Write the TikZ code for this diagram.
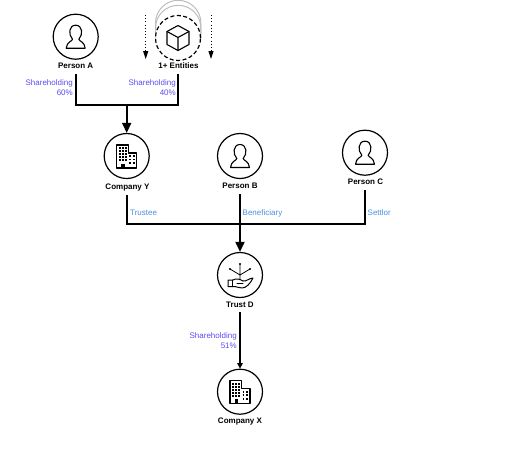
\documentclass[tikz,border=0pt]{standalone}
\usepackage{fontspec}
\setmainfont{Liberation Sans}
\usetikzlibrary{arrows.meta,calc}
\definecolor{sharecol}{HTML}{5B4BF0}
\definecolor{rolecol}{HTML}{4A90D9}
\definecolor{ghost}{HTML}{BDBDBD}
\tikzset{
  x=1pt,y=-1pt,
  entity/.style={circle,draw=black,line width=1.2pt,minimum size=45pt,inner sep=0pt,fill=white},
  name label/.style={font=\fontsize{8}{9}\selectfont\bfseries,text=black,inner sep=0pt,anchor=center,text height=6pt,text depth=0pt},
  share label/.style={font=\fontsize{8}{10}\selectfont,text=sharecol,align=right,anchor=north east,inner sep=0pt},
  role label/.style={font=\fontsize{8}{9}\selectfont,text=rolecol,anchor=west,inner sep=0pt},
  heavy/.style={line width=1.9pt,draw=black},
  heavy arrow/.style={heavy,-{Triangle[length=10pt,width=9pt]}},
  thin arrow/.style={line width=1.2pt,draw=black,-{Triangle[length=5.5pt,width=5.5pt]}},
  dotted arrow/.style={line width=1pt,dash pattern=on 1pt off 2.2pt,-{Triangle[length=8pt,width=5pt]}},
  icon/.style={line width=1.1pt,draw=black,line join=round,line cap=round},
  person/.pic={
    \draw[icon] (-3.2,2.5) .. controls (-7.5,-2) and (-7,-11.5) .. (0,-11.5) .. controls (7,-11.5) and (7.5,-2) .. (3.2,2.5)
      .. controls (3.2,4.5) and (9,5) .. (9.5,11.5) -- (-9.5,11.5) .. controls (-9,5) and (-3.2,4.5) .. (-3.2,2.5) -- cycle;
  },
  building/.pic={
    \draw[icon,fill=white] (-10,-11) -- (1.5,-11) -- (1.5,-3) -- (10,-3) -- (10,12) -- (-10,12) -- cycle;
    \foreach \xx in {-7,-4,-1}{\foreach \yy in {-8,-5,-2,1,4}{\fill (\xx-0.8,\yy-0.8) rectangle ++(1.6,1.6);}}
    \foreach \xx in {3.5,7}{\foreach \yy in {0,3.5,7}{\fill (\xx-0.8,\yy-0.8) rectangle ++(1.6,1.6);}}
    \fill (-5.5,7.5) rectangle (-2,12);
  },
  cube/.pic={
    \draw[icon] (0,-12.5) -- (11,-6.5) -- (11,6.5) -- (0,12.5) -- (-11,6.5) -- (-11,-6.5) -- cycle;
    \draw[icon] (-11,-6.5) -- (0,-0.5) -- (11,-6.5) (0,-0.5) -- (0,12.5);
  },
  trustmark/.pic={
    \draw[icon,line width=0.8pt] (0,4) -- (0,-11) (0,0) -- (-10,-6) (0,0) -- (10,-6);
    \fill (0,-11) circle (1.2) (-10,-6) circle (1.2) (10,-6) circle (1.2);
    \draw[icon,line width=1pt] (-12,5) -- (-7,5) .. controls (-4,3) and (0,4) .. (3,6) .. controls (6,7) and (9,3) .. (13,3)
      .. controls (10,9) and (6,13) .. (2,13) .. controls (-1,13) and (-3,11.5) .. (-7,11.5) -- (-12,11.5) -- cycle;
    \draw[icon,line width=1pt] (-7.5,5) -- (-7.5,11.5) (-3,8.5) -- (3,8.5);
  }
}
\begin{document}
\begin{tikzpicture}
\useasboundingbox (0,0) rectangle (512,448);
% ghost stack behind the entities node
\draw[ghost,line width=1pt] (155.5,38) -- (155.5,28) arc[start angle=180,end angle=360,radius=22.7] -- (200.9,38);
\draw[ghost,line width=1pt] (155.5,38) -- (155.5,23) arc[start angle=180,end angle=360,radius=22.7] -- (200.9,38);
% entities
\node[entity] (pa) at (75.7,36.7) {};
\node[entity,dash pattern=on 4pt off 2.5pt] (en) at (178,38) {};
\node[entity] (cy) at (126.7,156) {};
\node[entity] (pb) at (240,156) {};
\node[entity] (pc) at (365,152.7) {};
\node[entity] (td) at (240,275) {};
\node[entity] (cx) at (240,391.7) {};
% icons
\pic at (pa) {person};
\pic at (pb) {person};
\pic at (pc) {person};
\pic at (en) {cube};
\pic at (cy) {building};
\pic at (cx) {building};
\pic at (td) {trustmark};
% names
\node[name label] (pal) at (75.7,65.7) {Person A};
\node[name label] (enl) at (178.5,65.7) {1+ Entities};
\node[name label] (cyl) at (127.5,186) {Company Y};
\node[name label] (pbl) at (240,185) {Person B};
\node[name label] (pcl) at (365.5,181) {Person C};
\node[name label] (tdl) at (240,304) {Trust D};
\node[name label] (cxl) at (240,420.7) {Company X};
% connector joints
\coordinate (ja) at (pa |- 0,105);
\coordinate (je) at (en |- 0,105);
\coordinate (jy) at (cy |- 0,105);
\coordinate (ty) at (cy |- 0,224);
\coordinate (tc) at (pc |- 0,224);
\coordinate (free1) at (145.7,15);
\coordinate (free2) at (145.7,59);
\coordinate (free3) at (211,15);
\coordinate (free4) at (211,59);
% connectors
\draw[heavy,line join=miter] (pa |- 0,74) -- (ja) -- (je) -- (en |- 0,74);
\draw[heavy arrow] (jy) -- (cy.north);
\draw[heavy,line join=miter] (cy |- 0,195) -- (ty) -- (tc) -- (pc |- 0,190);
\draw[heavy arrow] (pb |- 0,194) -- (td.north);
\draw[thin arrow] (td |- 0,312) -- (cx.north);
\draw[dotted arrow] (free1) -- (free2);
\draw[dotted arrow] (free3) -- (free4);
% labels
\node[share label] (s60) at (73,79) {Shareholding\\60\%};
\node[share label] (s40) at (176,79) {Shareholding\\40\%};
\node[share label] (s51) at (237,332) {Shareholding\\51\%};
\node[role label] (r1) at (130,213) {Trustee};
\node[role label] (r2) at (242.5,213) {Beneficiary};
\node[role label] (r3) at (367.5,213) {Settlor};
\end{tikzpicture}
\end{document}
